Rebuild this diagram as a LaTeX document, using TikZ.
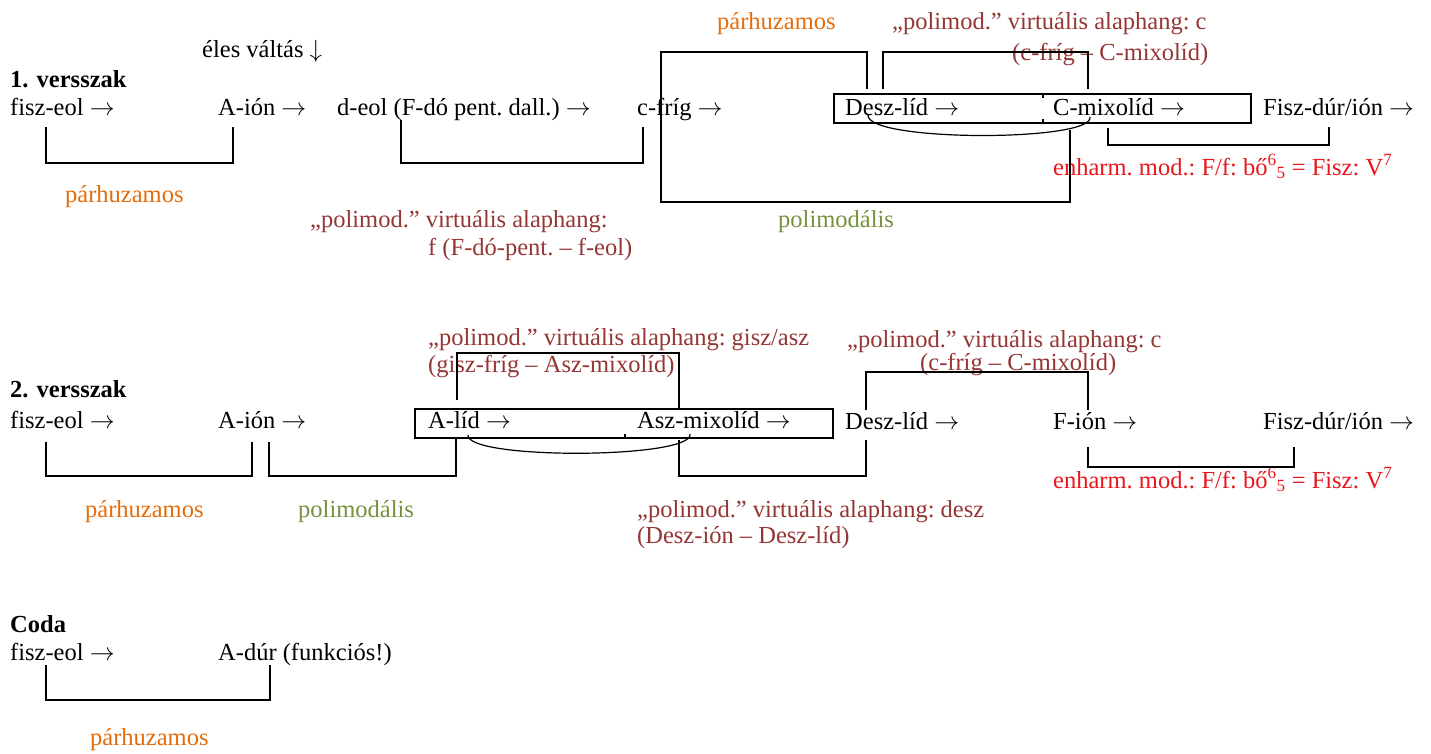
\documentclass[tikz,border=0pt]{standalone}
\usepackage{fontspec}
\setmainfont{Liberation Serif}
\usetikzlibrary{calc}

\definecolor{parhuz}{RGB}{228,108,10}
\definecolor{polimod}{RGB}{118,146,60}
\definecolor{virtual}{RGB}{148,54,52}
\definecolor{enharm}{RGB}{232,22,28}

\newcommand{\nyil}{ $\rightarrow$}

\tikzset{
  hang/.style={anchor=west, inner sep=0pt, text height=.65em, text depth=.25em,
    yshift=-3pt, font=\fontsize{24.5}{28}\selectfont\frenchspacing},
  cim/.style={hang, font=\fontsize{24.5}{28}\selectfont\bfseries},
  parh/.style={hang, text=parhuz},
  poli/.style={hang, text=polimod},
  virt/.style={hang, text=virtual},
  enh/.style={hang, text=enharm},
  kapocs/.style={draw, line width=1.4pt},
  keret/.style={draw, line width=1.4pt},
  ivel/.style={draw, line width=1.2pt}
}

\begin{document}
\begin{tikzpicture}[x=1pt, y=-1pt]
    \useasboundingbox (0,0) rectangle (1431,753);

    % 1. versszak
    \node[hang] (eles) at (202,52) {éles váltás $\downarrow$};
    \node[cim] (vers1) at (10,82) {1. versszak};
    \node[hang] (fiszeol1) at (10,110) {fisz-eol\nyil};
    \node[hang] (aion1) at (218,110) {A-ión\nyil};
    \node[hang] (deol1) at (337,110) {d-eol (F-dó pent. dall.)\nyil};
    \node[hang] (cfrig1) at (637,110) {c-fríg\nyil};
    \node[hang] (deszlid1) at (845,110) {Desz-líd\nyil};
    \node[hang] (cmixo1) at (1053,110) {C-mixolíd\nyil};
    \node[hang] (fiszdur1) at (1263,110) {Fisz-dúr/ión\nyil};

    \node[parh] (parh1a) at (717,24) {párhuzamos};
    \node[virt] (virt1a) at (892,24) {„polimod.” virtuális alaphang: c};
    \node[virt] (virt1a2) at (1012,55) {(c-fríg – C-mixolíd)};
    \node[parh] (parh1b) at (65,197) {párhuzamos};
    \node[virt] (virt1b) at (310,222) {„polimod.” virtuális alaphang:};
    \node[virt] (virt1b2) at (428,250) {f (F-dó-pent. – f-eol)};
    \node[poli] (poli1) at (778,222) {polimodális};
    \node[enh] (enh1) at (1053,170) {enharm. mod.: F/f: bő\textsuperscript{6}\textsubscript{5} = Fisz: V\textsuperscript{7}};

    \coordinate (k1a) at (834,94);
    \coordinate (k1b) at (1251,123);
    \coordinate (k1t) at (1043,94);
    \coordinate (k1u) at (1043,123);
    \draw[keret] (k1a) rectangle (k1b);
    \draw[keret] (k1t) -- ++(0,4);
    \draw[keret] (k1u) -- ++(0,-4);

    \coordinate (f1) at (46,127);
    \coordinate (a1) at (233,127);
    \coordinate (d1) at (401,120);
    \coordinate (c1) at (643,127);
    \coordinate (c1a) at (661,110);
    \coordinate (ds1) at (867,89);
    \coordinate (ds1b) at (883,89);
    \coordinate (cm1b) at (1088,89);
    \coordinate (cm1) at (1070,130);
    \coordinate (ds1c) at (868,115);
    \coordinate (cm1c) at (1090,117);
    \coordinate (cm1d) at (1108,128);
    \coordinate (fd1) at (1329,127);
    \draw[kapocs] (f1) -- ++(0,36) -| (a1);
    \draw[kapocs] (d1) -- ++(0,43) -| (c1);
    \draw[kapocs] (c1a) -- ++(0,-58) -| (ds1);
    \draw[kapocs] (c1a) -- ++(0,92) -| (cm1);
    \draw[kapocs] (ds1b) -- ++(0,-37) -| (cm1b);
    \draw[ivel] (ds1c) .. controls ($(ds1c)+(-2,27)$) and ($(cm1c)+(4,25)$) .. (cm1c);
    \draw[kapocs] (cm1d) -- ++(0,17) -| (fd1);

    % 2. versszak
    \node[cim] (vers2) at (10,392) {2. versszak};
    \node[hang] (fiszeol2) at (10,423) {fisz-eol\nyil};
    \node[hang] (aion2) at (218,423) {A-ión\nyil};
    \node[hang] (alid2) at (428,423) {A-líd\nyil};
    \node[hang] (aszmixo2) at (637,423) {Asz-mixolíd\nyil};
    \node[hang] (deszlid2) at (845,424) {Desz-líd\nyil};
    \node[hang] (fion2) at (1053,424) {F-ión\nyil};
    \node[hang] (fiszdur2) at (1263,424) {Fisz-dúr/ión\nyil};

    \node[virt] (virt2a) at (428,340) {„polimod.” virtuális alaphang: gisz/asz};
    \node[virt] (virt2a2) at (428,367) {(gisz-fríg – Asz-mixolíd)};
    \node[virt] (virt2b) at (847,342) {„polimod.” virtuális alaphang: c};
    \node[virt] (virt2b2) at (920,365) {(c-fríg – C-mixolíd)};
    \node[parh] (parh2) at (85,512) {párhuzamos};
    \node[poli] (poli2) at (298,512) {polimodális};
    \node[virt] (virt2c) at (637,512) {„polimod.” virtuális alaphang: desz};
    \node[virt] (virt2c2) at (637,538) {(Desz-ión – Desz-líd)};
    \node[enh] (enh2) at (1053,483) {enharm. mod.: F/f: bő\textsuperscript{6}\textsubscript{5} = Fisz: V\textsuperscript{7}};

    \coordinate (k2a) at (415,409);
    \coordinate (k2b) at (833,438);
    \coordinate (k2u) at (625,438);
    \draw[keret] (k2a) rectangle (k2b);
    \draw[keret] (k2u) -- ++(0,-4);

    \coordinate (f2) at (46,442);
    \coordinate (a2) at (252,442);
    \coordinate (a2b) at (269,442);
    \coordinate (al2) at (456,438);
    \coordinate (al2b) at (457,400);
    \coordinate (as2) at (679,408);
    \coordinate (as2b) at (679,440);
    \coordinate (ds2) at (866,440);
    \coordinate (ds2b) at (866,410);
    \coordinate (fi2) at (1088,410);
    \coordinate (fi2b) at (1088,447);
    \coordinate (fd2) at (1294,447);
    \coordinate (al2c) at (468,435);
    \coordinate (as2c) at (690,434);
    \draw[kapocs] (f2) -- ++(0,34) -| (a2);
    \draw[kapocs] (a2b) -- ++(0,34) -| (al2);
    \draw[kapocs] (al2b) -- ++(0,-47) -| (as2);
    \draw[ivel] (al2c) .. controls ($(al2c)+(-2,25)$) and ($(as2c)+(4,25)$) .. (as2c);
    \draw[kapocs] (as2b) -- ++(0,36) -| (ds2);
    \draw[kapocs] (ds2b) -- ++(0,-38) -| (fi2);
    \draw[kapocs] (fi2b) -- ++(0,20) -| (fd2);

    % Coda
    \node[cim] (coda) at (10,627) {Coda};
    \node[hang] (fiszeol3) at (10,655) {fisz-eol\nyil};
    \node[hang] (adur3) at (218,655) {A-dúr (funkciós!)};
    \node[parh] (parh3) at (90,740) {párhuzamos};

    \coordinate (f3) at (46,665);
    \coordinate (a3) at (270,665);
    \draw[kapocs] (f3) -- ++(0,35) -| (a3);
\end{tikzpicture}
\end{document}
